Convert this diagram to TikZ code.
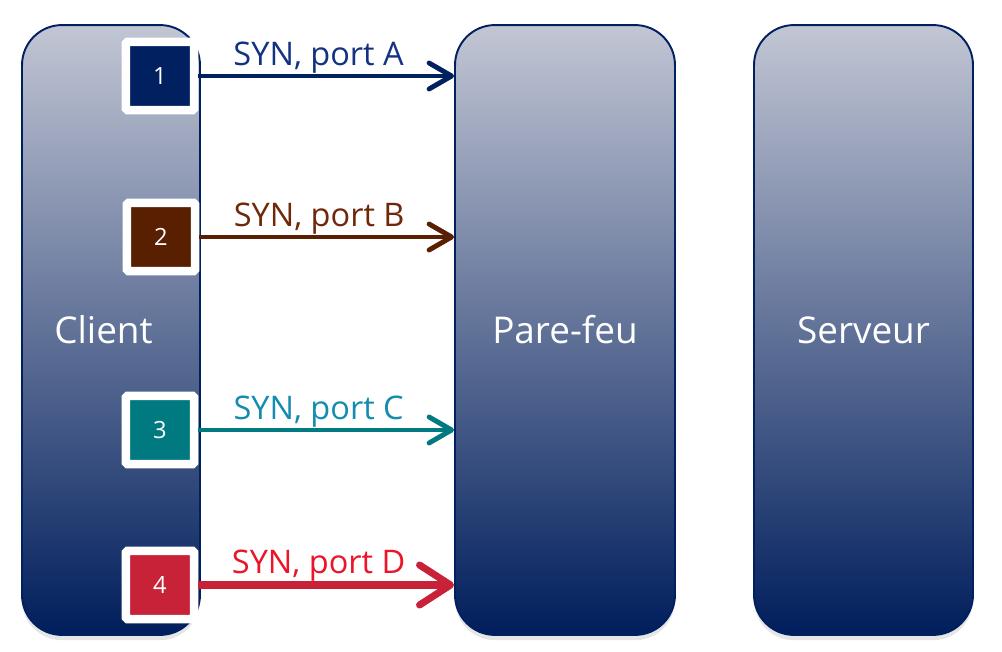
\documentclass[tikz,border=0pt]{standalone}
\usepackage{fontspec}
\setmainfont{Open Sans}
\usetikzlibrary{arrows.meta,shadows}

\definecolor{navy}{RGB}{0,32,96}
\definecolor{bloctop}{RGB}{194,198,212}
\definecolor{blocbot}{RGB}{0,30,92}
\definecolor{synA}{RGB}{0,32,96}
\definecolor{synB}{RGB}{88,32,0}
\definecolor{synC}{RGB}{0,122,128}
\definecolor{synD}{RGB}{200,34,56}
\definecolor{txtA}{RGB}{20,50,130}
\definecolor{txtB}{RGB}{110,40,10}
\definecolor{txtC}{RGB}{20,140,175}
\definecolor{txtD}{RGB}{235,20,40}

\tikzset{
  bloc/.style={draw=navy, line width=1.1pt, rounded corners=0.8cm,
    top color=bloctop, bottom color=blocbot, minimum height=12.2cm,
    text=white, font=\fontsize{21}{24}\selectfont,
    drop shadow={shadow xshift=0pt, shadow yshift=-3pt, opacity=0.2}},
  numbox/.style={draw=white, line width=0.17cm, minimum size=1.37cm,
    inner sep=0pt, rounded corners=1pt, text=white,
    font=\fontsize{13.5}{15}\selectfont,
    drop shadow={shadow xshift=1pt, shadow yshift=-1.5pt, opacity=0.2}},
  syn/.style={line width=2.8pt, -{Straight Barb[length=0.45cm, width=0.52cm, round]}},
  synlbl/.style={above=-3pt, pos=0.47, font=\fontsize{18.5}{21}\selectfont}
}

\begin{document}
\begin{tikzpicture}[x=0.02cm, y=-0.02cm]
  \useasboundingbox (0,0) rectangle (1002,652);

  % les trois blocs
  \node[bloc, minimum width=3.56cm] (client) at (111,330) {Client\hspace*{0.3cm}};
  \node[bloc, minimum width=4.4cm] (parefeu) at (565,330) {Pare-feu};
  \node[bloc, minimum width=4.38cm] (serveur) at (863.5,330) {Serveur};

  % les paquets
  \node[numbox, fill=synA] (n1) at (160,76) {1};
  \node[numbox, fill=synB] (n2) at (161,237) {2};
  \node[numbox, fill=synC] (n3) at (160,430) {3};
  \node[numbox, fill=synD] (n4) at (160,585) {4};

  % les SYN
  \draw[syn, draw=synA] (n1.east) -- (n1.east -| parefeu.west)
    node[synlbl, text=txtA] (lblA) {SYN, port A};
  \draw[syn, draw=synB] (n2.east) -- (n2.east -| parefeu.west)
    node[synlbl, text=txtB] (lblB) {SYN, port B};
  \draw[syn, draw=synC] (n3.east) -- (n3.east -| parefeu.west)
    node[synlbl, text=txtC] (lblC) {SYN, port C};
  \draw[syn, draw=synD, line width=4pt,
    -{Straight Barb[length=0.62cm, width=0.8cm, round]}] (n4.east) -- (n4.east -| parefeu.west)
    node[synlbl, text=txtD] (lblD) {SYN, port D};
\end{tikzpicture}
\end{document}
